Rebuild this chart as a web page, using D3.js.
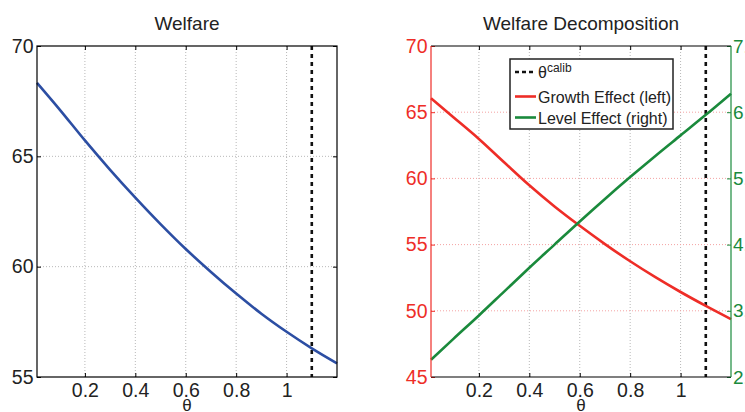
<!DOCTYPE html>
<html>
<head>
<meta charset="utf-8">
<script src="https://cdn.jsdelivr.net/npm/d3@7"></script>
<style>
  body { margin: 0; background: #fff; }
  svg { display: block; font-family: "Liberation Sans", Arial, Helvetica, sans-serif; }
</style>
</head>
<body>
<div id="chart"></div>
<script>
// values, theta from 0.01 to 1.2
var thetaVals   = [0.01, 0.1, 0.2, 0.3, 0.4, 0.5, 0.6, 0.7, 0.8, 0.9, 1.0, 1.1, 1.2];
var welfareVals = [68.33, 67.12, 65.72, 64.39, 63.13, 61.93, 60.8, 59.76, 58.78, 57.87, 57.05, 56.3, 55.62];
var growthVals  = [66.05, 64.6, 62.98, 61.22, 59.48, 57.88, 56.42, 55.04, 53.74, 52.54, 51.42, 50.37, 49.37];
var levelVals   = [2.26, 2.58, 2.93, 3.29, 3.65, 4.0, 4.35, 4.69, 5.02, 5.34, 5.65, 5.96, 6.28];
var thetaCalib  = 1.1;

var xTicks = [0.2, 0.4, 0.6, 0.8, 1];
var welfareTicks = [55, 60, 65, 70];
var growthTicks = [45, 50, 55, 60, 65, 70];
var levelTicks = [2, 3, 4, 5, 6, 7];

var legendItems = ["calib", "Growth Effect (left)", "Level Effect (right)"];

var W = 745, H = 412;
var top_ = 46, bottom_ = 377;
var blue = "#2c4ea3", red = "#ee2d27", green = "#1a8a3c";
var tickFont = "19.5px", titleFont = "19px";

var svg = d3.select("#chart").append("svg")
  .attr("width", W)
  .attr("height", H);

var fmt = d3.format(".1~f");

function panel(x0, x1, title) {
  var g = svg.append("g");
  var x = d3.scaleLinear().domain([0.01, 1.2]).range([x0, x1]);

  // vertical grid
  g.append("g").selectAll("line")
    .data(xTicks)
    .enter().append("line")
    .attr("x1", function(d) { return x(d); })
    .attr("x2", function(d) { return x(d); })
    .attr("y1", top_)
    .attr("y2", bottom_)
    .attr("stroke", "#b8b8b8")
    .attr("stroke-width", 1)
    .attr("stroke-dasharray", "1,2");

  // bottom axis, ticks inside
  var ax = g.append("g")
    .attr("transform", "translate(0," + bottom_ + ")")
    .call(d3.axisBottom(x).tickValues(xTicks).tickFormat(fmt).tickSizeInner(-4).tickSizeOuter(0).tickPadding(6));
  ax.select(".domain").remove();
  ax.selectAll("text").style("font-size", tickFont).attr("fill", "#222");

  // top ticks
  var axt = g.append("g")
    .attr("transform", "translate(0," + top_ + ")")
    .call(d3.axisTop(x).tickValues(xTicks).tickFormat("").tickSizeInner(-4).tickSizeOuter(0));
  axt.select(".domain").remove();

  g.append("text")
    .attr("x", (x0 + x1) / 2)
    .attr("y", 30)
    .attr("text-anchor", "middle")
    .style("font-size", titleFont)
    .attr("fill", "#222")
    .text(title);

  g.append("text")
    .attr("x", (x0 + x1) / 2)
    .attr("y", 411)
    .attr("text-anchor", "middle")
    .style("font-size", "17px")
    .attr("fill", "#222")
    .text("θ");

  return { g: g, x: x };
}

function yGrid(g, y, ticks, x0, x1, gridColor) {
  g.append("g").selectAll("line")
    .data(ticks.filter(function(d) { return d !== y.domain()[0] && d !== y.domain()[1]; }))
    .enter().append("line")
    .attr("x1", x0)
    .attr("x2", x1)
    .attr("y1", function(d) { return y(d); })
    .attr("y2", function(d) { return y(d); })
    .attr("stroke", gridColor)
    .attr("stroke-width", 1)
    .attr("stroke-dasharray", "1,2");
}

// ---- left panel: Welfare
var p1 = panel(37, 337, "Welfare");
var y1 = d3.scaleLinear().domain([55, 70]).range([bottom_, top_]);
yGrid(p1.g, y1, welfareTicks, 37, 337, "#b8b8b8");

var ayl = p1.g.append("g")
  .attr("transform", "translate(37,0)")
  .call(d3.axisLeft(y1).tickValues(welfareTicks).tickSizeInner(-4).tickSizeOuter(0).tickPadding(3.5));
ayl.select(".domain").remove();
ayl.selectAll("text").style("font-size", tickFont).attr("fill", "#222");
var ayr = p1.g.append("g")
  .attr("transform", "translate(337,0)")
  .call(d3.axisRight(y1).tickValues(welfareTicks).tickFormat("").tickSizeInner(-4).tickSizeOuter(0));
ayr.select(".domain").remove();

p1.g.append("line")
  .attr("x1", p1.x(thetaCalib)).attr("x2", p1.x(thetaCalib))
  .attr("y1", top_).attr("y2", bottom_)
  .attr("stroke", "#111").attr("stroke-width", 2.6).attr("stroke-dasharray", "4,4");

var line1 = d3.line()
  .x(function(d, i) { return p1.x(thetaVals[i]); })
  .y(function(d) { return y1(d); })
  .curve(d3.curveMonotoneX);
p1.g.append("path")
  .datum(welfareVals)
  .attr("d", line1)
  .attr("fill", "none")
  .attr("stroke", blue)
  .attr("stroke-width", 2.6);

p1.g.append("rect")
  .attr("x", 37).attr("y", top_)
  .attr("width", 300).attr("height", bottom_ - top_)
  .attr("fill", "none").attr("stroke", "#000").attr("stroke-width", 1.2);

// ---- right panel: decomposition
var x2a = 431, x2b = 731;
var p2 = panel(x2a, x2b, "Welfare Decomposition");
var yG = d3.scaleLinear().domain([45, 70]).range([bottom_, top_]);
var yL = d3.scaleLinear().domain([2, 7]).range([bottom_, top_]);
yGrid(p2.g, yG, growthTicks, x2a, x2b, "#f4a3a3");

var agl = p2.g.append("g")
  .attr("transform", "translate(" + x2a + ",0)")
  .call(d3.axisLeft(yG).tickValues(growthTicks).tickSizeInner(-4).tickSizeOuter(0).tickPadding(3.5));
agl.select(".domain").remove();
agl.selectAll("line").attr("stroke", red);
agl.selectAll("text").style("font-size", tickFont).attr("fill", red);

var alr = p2.g.append("g")
  .attr("transform", "translate(" + x2b + ",0)")
  .call(d3.axisRight(yL).tickValues(levelTicks).tickSizeInner(-4).tickSizeOuter(0).tickPadding(2));
alr.select(".domain").remove();
alr.selectAll("line").attr("stroke", green);
alr.selectAll("text").style("font-size", "19px").attr("fill", green);

p2.g.append("line")
  .attr("x1", p2.x(thetaCalib)).attr("x2", p2.x(thetaCalib))
  .attr("y1", top_).attr("y2", bottom_)
  .attr("stroke", "#111").attr("stroke-width", 2.6).attr("stroke-dasharray", "4,4");

var lineG = d3.line()
  .x(function(d, i) { return p2.x(thetaVals[i]); })
  .y(function(d) { return yG(d); })
  .curve(d3.curveMonotoneX);
var lineL = d3.line()
  .x(function(d, i) { return p2.x(thetaVals[i]); })
  .y(function(d) { return yL(d); })
  .curve(d3.curveMonotoneX);

p2.g.append("path").datum(growthVals).attr("d", lineG)
  .attr("fill", "none").attr("stroke", red).attr("stroke-width", 2.6);
p2.g.append("path").datum(levelVals).attr("d", lineL)
  .attr("fill", "none").attr("stroke", green).attr("stroke-width", 2.6);

// frame: black top/bottom, red left, green right
p2.g.append("line").attr("x1", x2a).attr("x2", x2b).attr("y1", top_).attr("y2", top_)
  .attr("stroke", "#000").attr("stroke-width", 1.2);
p2.g.append("line").attr("x1", x2a).attr("x2", x2b).attr("y1", bottom_).attr("y2", bottom_)
  .attr("stroke", "#000").attr("stroke-width", 1.2);
p2.g.append("line").attr("x1", x2a).attr("x2", x2a).attr("y1", top_).attr("y2", bottom_)
  .attr("stroke", red).attr("stroke-width", 1.2);
p2.g.append("line").attr("x1", x2b).attr("x2", x2b).attr("y1", top_).attr("y2", bottom_)
  .attr("stroke", green).attr("stroke-width", 1.2);

// legend
var leg = svg.append("g").attr("transform", "translate(510,59)");
leg.append("rect")
  .attr("width", 163).attr("height", 70)
  .attr("fill", "#fff").attr("stroke", "#222").attr("stroke-width", 1.5);

var rows = [
  { y: 13, stroke: "#111", dash: "4,3" },
  { y: 37.5, stroke: red, dash: null },
  { y: 58.5, stroke: green, dash: null }
];
rows.forEach(function(r, i) {
  leg.append("line")
    .attr("x1", 5).attr("x2", 26)
    .attr("y1", r.y).attr("y2", r.y)
    .attr("stroke", r.stroke).attr("stroke-width", 2.6)
    .attr("stroke-dasharray", r.dash);
  var t = leg.append("text")
    .attr("x", 28)
    .attr("y", r.y + 6)
    .style("font-size", "16px")
    .attr("fill", "#222");
  if (i === 0) {
    t.append("tspan").text("θ");
    t.append("tspan").attr("dy", -6).style("font-size", "12px").text(legendItems[0]);
  } else {
    t.text(legendItems[i]);
  }
});
</script>
</body>
</html>
